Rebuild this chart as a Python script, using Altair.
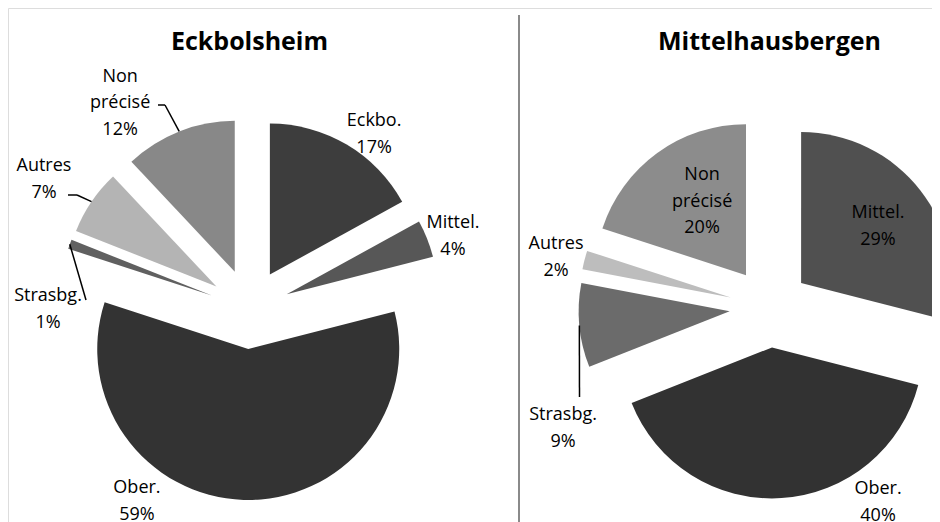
import altair as alt
import pandas as pd

# ---------------- data ----------------
pies = ["Eckbolsheim", "Mittelhausbergen"]
eck_cats = ["Eckbo.", "Mittel.", "Ober.", "Strasbg.", "Autres", "Non précisé"]
eck_vals = [17, 4, 59, 1, 7, 12]
mit_cats = ["Mittel.", "Ober.", "Strasbg.", "Autres", "Non précisé"]
mit_vals = [29, 40, 9, 2, 20]

# ---------------- layout / style ----------------
W, H = 924, 514
CENTER = {"Eckbolsheim": (241.5, 301.0), "Mittelhausbergen": (761.5, 299.5)}
R = 151
EXPLODE = 40
TITLE_Y = 34
FONT = "Open Sans"
LINE_H = 26.5

COLORS = {
    ("Eckbolsheim", "Eckbo."): "#3d3d3d",
    ("Eckbolsheim", "Mittel."): "#575757",
    ("Eckbolsheim", "Ober."): "#333333",
    ("Eckbolsheim", "Strasbg."): "#606060",
    ("Eckbolsheim", "Autres"): "#b4b4b4",
    ("Eckbolsheim", "Non précisé"): "#888888",
    ("Mittelhausbergen", "Mittel."): "#505050",
    ("Mittelhausbergen", "Ober."): "#323232",
    ("Mittelhausbergen", "Strasbg."): "#6b6b6b",
    ("Mittelhausbergen", "Autres"): "#bdbdbd",
    ("Mittelhausbergen", "Non précisé"): "#8c8c8c",
}
# label placement: (radius from pie centre, angular nudge from slice middle in degrees)
LABEL = {
    ("Eckbolsheim", "Eckbo."): (215.6, 4.7),
    ("Eckbolsheim", "Mittel."): (216.5, 1.6),
    ("Eckbolsheim", "Ober."): (221.7, 28.7),
    ("Eckbolsheim", "Strasbg."): (201.5, -19.5),
    ("Eckbolsheim", "Autres"): (243.7, -1.7),
    ("Eckbolsheim", "Non précisé"): (244.2, -10.4),
    ("Mittelhausbergen", "Mittel."): (136.3, 0.5),
    ("Mittelhausbergen", "Ober."): (221.8, -25.7),
    ("Mittelhausbergen", "Strasbg."): (238.6, -24.7),
    ("Mittelhausbergen", "Autres"): (219.6, -0.8),
    ("Mittelhausbergen", "Non précisé"): (126.9, 3.9),
}
# leader lines: start point and elbow, offsets from pie centre
LEADER = {
    ("Eckbolsheim", "Non précisé"): ((-91.5, -204.0), (-84.5, -204.0)),
    ("Eckbolsheim", "Autres"): ((-181.5, -114.0), (-172.5, -114.0)),
    ("Eckbolsheim", "Strasbg."): ((-163.5, -9.0), (-163.5, -9.0)),
    ("Mittelhausbergen", "Strasbg."): ((-190.0, 89.5), (-190.0, 89.5)),
}

rows = []
for pie, cats, vals in [(pies[0], eck_cats, eck_vals), (pies[1], mit_cats, mit_vals)]:
    for i, (c, v) in enumerate(zip(cats, vals)):
        key = (pie, c)
        lr, ln = LABEL[key]
        lead = LEADER.get(key)
        label = c.replace(" ", "\n") + "\n" + f"{v}%"
        rows.append({
            "pie": pie, "cat": c, "value": v, "order": i,
            "key": pie + "|" + c,
            "label": label,
            "nl": label.count("\n") + 1,
            "cx0": CENTER[pie][0], "cy0": CENTER[pie][1],
            "lab_r": lr, "lab_n": ln,
            "l0dx": lead[0][0] if lead else None, "l0dy": lead[0][1] if lead else None,
            "l1dx": lead[1][0] if lead else None, "l1dy": lead[1][1] if lead else None,
        })
df = pd.DataFrame(rows)

keys = [p + "|" + c for (p, c) in COLORS]
cols = [COLORS[k] for k in COLORS]

base = (
    alt.Chart(df)
    .transform_window(cum="sum(value)", groupby=["pie"], sort=[alt.SortField("order")], frame=[None, 0])
    .transform_joinaggregate(total="sum(value)", groupby=["pie"])
    .transform_calculate(
        start="2*PI*(datum.cum - datum.value)/datum.total",
        end="2*PI*datum.cum/datum.total",
    )
    .transform_calculate(mid="(datum.start + datum.end)/2")
    .transform_calculate(
        cx=f"datum.cx0 + {EXPLODE}*sin(datum.mid)",
        cy=f"datum.cy0 - {EXPLODE}*cos(datum.mid)",
        lx="datum.cx0 + datum.lab_r*sin(datum.mid + datum.lab_n*PI/180)",
        ly=f"datum.cy0 + 1.5 - datum.lab_r*cos(datum.mid + datum.lab_n*PI/180) - (datum.nl - 1)*{LINE_H}/2",
        ex=f"datum.cx0 + {EXPLODE + R}*sin(datum.mid)",
        ey=f"datum.cy0 - {EXPLODE + R}*cos(datum.mid)",
        ax="datum.cx0 + datum.l0dx",
        ay="datum.cy0 + datum.l0dy",
        bx="datum.cx0 + datum.l1dx",
        by="datum.cy0 + datum.l1dy",
    )
)

arcs = base.mark_arc(radius=R).encode(
    theta=alt.Theta("start:Q", scale=None, stack=None),
    theta2="end:Q",
    x=alt.X("cx:Q", scale=None),
    y=alt.Y("cy:Q", scale=None),
    color=alt.Color("key:N", scale=alt.Scale(domain=keys, range=cols), legend=None),
)

labels = base.mark_text(
    lineBreak="\n", font=FONT, fontSize=18, fontWeight=500, align="center", baseline="middle",
    lineHeight=LINE_H, color="#000000",
).encode(
    x=alt.X("lx:Q", scale=None),
    y=alt.Y("ly:Q", scale=None),
    text="label:N",
)

lead_a = base.transform_filter("isValid(datum.l0dx)").mark_rule(color="#000000", strokeWidth=1.5).encode(
    x=alt.X("ax:Q", scale=None), y=alt.Y("ay:Q", scale=None), x2="bx:Q", y2="by:Q",
)
lead_b = base.transform_filter("isValid(datum.l1dx)").mark_rule(color="#000000", strokeWidth=1.5).encode(
    x=alt.X("bx:Q", scale=None), y=alt.Y("by:Q", scale=None), x2="ex:Q", y2="ey:Q",
)

tdf = pd.DataFrame({"pie": pies, "tx": [CENTER[p][0] for p in pies]})
titles = alt.Chart(tdf).mark_text(
    font=FONT, fontSize=25, fontWeight="bold", align="center", baseline="middle", color="#000000",
).encode(
    x=alt.X("tx:Q", scale=None),
    y=alt.value(TITLE_Y),
    text="pie:N",
)

divider = alt.Chart(pd.DataFrame({"d": [0]})).mark_rule(color="#8a8a8a", strokeWidth=2).encode(
    x=alt.value(511), y=alt.value(7), y2=alt.value(H + 10),
)

chart = (
    alt.layer(arcs, lead_a, lead_b, labels, titles, divider)
    .properties(width=W, height=H, padding=0, autosize=alt.AutoSizeParams(type="none"))
    .configure_view(strokeWidth=0, strokeOpacity=0)
    .configure(background="#ffffff")
)

chart.save("out.html", embed_options={"renderer": "svg", "actions": False})
